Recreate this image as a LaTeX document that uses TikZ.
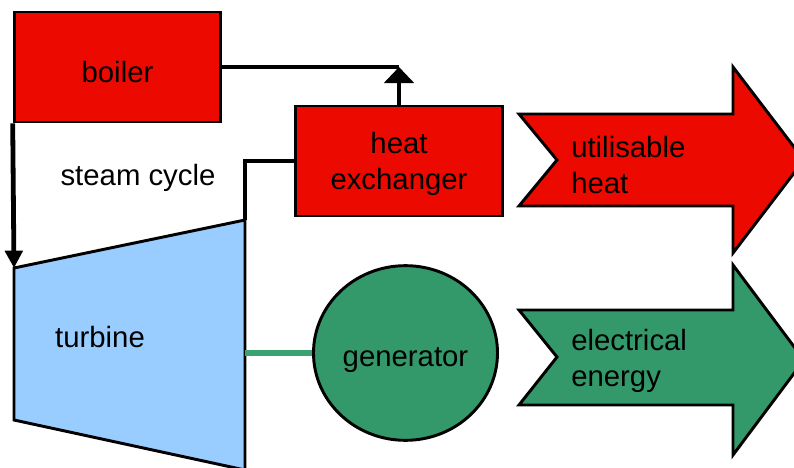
\documentclass[tikz,border=0pt]{standalone}
\usepackage{fontspec}
\setmainfont{Liberation Sans}
\usetikzlibrary{arrows.meta,shapes.geometric}
\definecolor{unitred}{RGB}{236,10,0}
\definecolor{turbineblue}{RGB}{153,204,255}
\definecolor{gengreen}{RGB}{52,153,106}
\definecolor{shaftgreen}{RGB}{58,163,112}
\tikzset{
	labelfont/.style={font=\fontsize{22}{27}\selectfont},
	unitbox/.style={draw=black,line width=2.2pt,fill=unitred,minimum width=155pt,minimum height=82.5pt,inner sep=0pt},
	pipe/.style={draw=black,line width=3.6pt},
	pipeup/.style={pipe,-{Triangle[width=22pt,length=12pt]}},
	pipedown/.style={pipe,-{Triangle[width=13pt,length=13pt]}},
	outline/.style={draw=black,line width=2.2pt,line join=miter},
	plain/.style={inner sep=0pt,align=left,labelfont}
}
\begin{document}
\begin{tikzpicture}[x=0.75pt,y=0.75pt,yscale=-1,xscale=1]
	\useasboundingbox (0,0) rectangle (794,468);
	
	%Shape: Rectangle [boiler]
	\node [unitbox,label={[labelfont,yshift=-3.5pt]center:boiler}] (boiler) at (117.5,67) {};
	%Shape: Rectangle [heat exchanger]
	\node [unitbox,label={[labelfont,align=center,yshift=-2pt]center:heat\\exchanger}] (hx) at (399,161) {};
	
	%Shape: Trapezoid [turbine]
	\coordinate (tl) at (14,268);
	\coordinate (tr) at (245,220);
	\coordinate (br) at (245,470);
	\coordinate (bl) at (14,420);
	\coordinate (shaft) at (245,353);
	\draw [outline,fill=turbineblue] (tl) -- (tr) -- (br) -- (bl) -- cycle;
	
	%Shape: Circle [generator]
	\node [ellipse,draw=black,line width=2.2pt,fill=gengreen,minimum width=138pt,minimum height=131pt,inner sep=0pt,label={[labelfont,yshift=-5pt]center:generator}] (gen) at (405.5,353) {};
	
	%Shape: Arrow [utilisable heat]
	\draw [outline,fill=unitred] (519,114) -- (733,114) -- (733,67) -- (804,160) -- (733,253) -- (733,206) -- (519,206) -- (557,160) -- cycle;
	%Shape: Arrow [electrical energy]
	\draw [outline,fill=gengreen] (519,310) -- (733,310) -- (733,265) -- (804,360) -- (733,455) -- (733,405) -- (519,405) -- (557,357) -- cycle;
	
	%Straight Lines [steam cycle]
	\draw [pipe] (boiler.east) -- (hx.north |- boiler.east);
	\draw [pipeup] (hx.north) -- (hx.north |- boiler.east);
	\draw [pipedown] (boiler.south west) -- (tl);
	\draw [pipe] (hx.west) -- (hx.west -| tr) -- (tr);
	%Straight Lines [shaft]
	\draw [draw=shaftgreen,line width=3.8pt] (shaft) -- (gen.west);
	
	% Text Node
	\node [plain] (cycle) at (138,178) {steam cycle};
	% Text Node
	\node [plain] (turbine) at (100,337) {turbine};
	% Text Node
	\node [plain,anchor=west] (heat) at (571,165) {utilisable\\heat};
	% Text Node
	\node [plain,anchor=west] (power) at (571,361) {electrical\\energy};
\end{tikzpicture}
\end{document}
